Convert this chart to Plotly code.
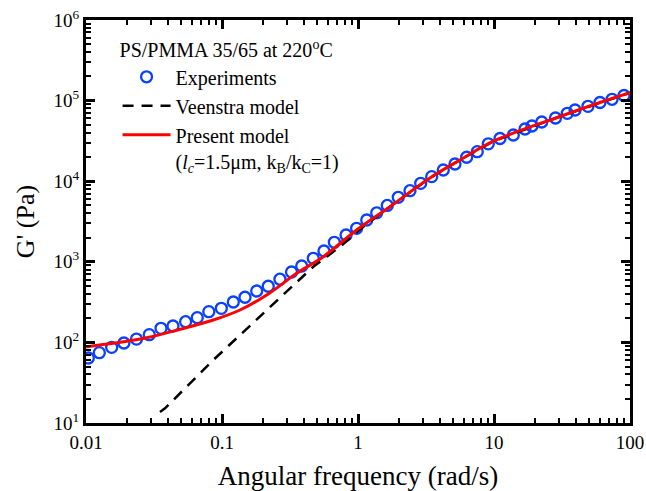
import plotly.graph_objects as go

# Experimental data (angular frequency rad/s, G' Pa)
exp_w = [0.0104, 0.01253, 0.01545, 0.0190, 0.0235, 0.0292, 0.0356, 0.0436, 0.0540, 0.0658,
         0.0800, 0.0989, 0.1211, 0.1476, 0.1799, 0.2188, 0.2667, 0.3245, 0.3855, 0.469,
         0.562, 0.670, 0.817, 0.977, 1.159, 1.373, 1.642, 1.978, 2.411, 2.891,
         3.483, 4.238, 5.166, 6.295, 7.534, 9.08, 11.07, 13.87, 16.90, 19.01,
         22.44, 28.32, 34.59, 39.43, 49.09, 60.14, 73.79, 90.36]
exp_g = [64.0, 74.5, 86.9, 98.3, 110, 124.6, 149.6, 159.7, 180.6, 202.5,
         240.4, 264.9, 317, 363, 434, 497, 608, 747, 887, 1105,
         1361, 1746, 2151, 2604, 3302, 4055, 5000, 6310, 7621, 9419,
         11380, 13770, 16340, 19810, 23230, 29110, 33880, 37410, 44430, 48420,
         54230, 60840, 69560, 76420, 84920, 94680, 103800, 115700]

# Present model
pres_w = [0.01, 0.01267, 0.01588, 0.02794, 0.04914, 0.0863, 0.1357, 0.2132, 0.354, 0.556,
          0.977, 1.718, 3.38, 5.62, 10.0, 30.6, 60.1, 100.0]
pres_g = [87.7, 92.9, 97.5, 114.4, 145.4, 189.6, 252.3, 387.3, 719.5, 1157,
          2481, 4830, 10960, 18330, 31550, 63500, 94700, 125300]

# Veenstra model
veen_w = [0.035, 0.0381, 0.0863, 0.2013, 0.469, 0.738, 1.094, 1.718, 3.38, 5.62,
          10.0, 30.6, 60.1, 100.0]
veen_g = [13.7, 15.2, 60.5, 229.6, 869, 1539, 2725, 4830, 10960, 18330,
          31550, 63500, 94700, 125300]

# Tick labels
x_tickvals = [0.01, 0.1, 1, 10, 100]
x_ticktext = ["0.01", "0.1", "1", "10", "100"]
y_tickvals = [1e1, 1e2, 1e3, 1e4, 1e5, 1e6]
y_ticktext = ["10<sup>1</sup>", "10<sup>2</sup>", "10<sup>3</sup>",
              "10<sup>4</sup>", "10<sup>5</sup>", "10<sup>6</sup>"]

FONT = "Liberation Serif, Times New Roman, serif"
BLUE = "#0a40ff"

fig = go.Figure()
fig.add_trace(go.Scatter(
    x=exp_w, y=exp_g, mode="markers", name="Experiments",
    marker=dict(symbol="circle-open", size=11, color=BLUE, line=dict(width=2.3, color=BLUE)),
))
fig.add_trace(go.Scatter(
    x=veen_w, y=veen_g, mode="lines", name="Veenstra model",
    line=dict(color="black", width=2.5, dash="11px,8px"),
))
fig.add_trace(go.Scatter(
    x=pres_w, y=pres_g, mode="lines", line_shape="spline",
    name="Present model<br>(<i>l</i><sub><i>c</i></sub>=1.5μm, k<sub>B</sub>/k<sub>C</sub>=1)",
    line=dict(color="#ff0000", width=3),
))

axis_common = dict(
    type="log", showline=True, linewidth=3, linecolor="black", mirror="ticks",
    ticks="inside", ticklen=9, tickwidth=3, tickcolor="black",
    showgrid=False, zeroline=False, automargin=False, ticklabeloverflow="allow",
    minor=dict(ticks="inside", ticklen=5, tickwidth=2, tickcolor="black", dtick="D1", showgrid=False),
    tickfont=dict(family=FONT, size=19, color="black"),
)

fig.update_xaxes(
    **axis_common, range=[-2, 2], tickmode="array", tickvals=x_tickvals, ticktext=x_ticktext,
    title=dict(text="Angular frequency (rad/s)", font=dict(family=FONT, size=27, color="black"), standoff=18),
)
fig.update_yaxes(
    **axis_common, range=[1, 6], tickmode="array", tickvals=y_tickvals, ticktext=y_ticktext,
    title=dict(text="G' (Pa)", font=dict(family=FONT, size=26, color="black"), standoff=12),
)

fig.update_layout(
    width=646, height=491,
    margin=dict(l=86, r=16, t=20, b=68),
    paper_bgcolor="white", plot_bgcolor="white",
    font=dict(family=FONT, size=20, color="black"),
    legend=dict(
        x=0.058, y=0.972, xanchor="left", yanchor="top",
        bgcolor="rgba(0,0,0,0)", borderwidth=0, itemwidth=48,
        title=dict(text="PS/PMMA 35/65 at 220<sup>o</sup>C", font=dict(family=FONT, size=20)),
        font=dict(family=FONT, size=20), valign="top", tracegroupgap=0,
    ),
)

# remove the default page margin so the 646x491 figure fills the window exactly
fig.write_html(
    "out.html",
    config={"displayModeBar": False},
    post_script="document.body.style.margin='0';document.body.style.overflow='hidden';",
)
